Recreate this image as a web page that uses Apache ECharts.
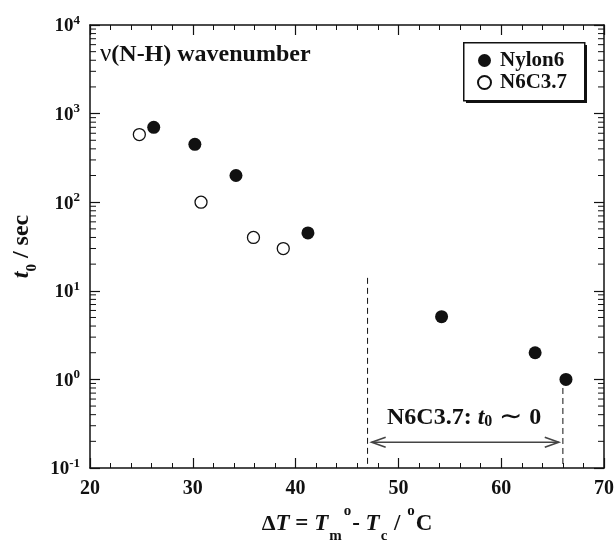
<!DOCTYPE html>
<html>
<head>
<meta charset="utf-8">
<script src="https://cdn.jsdelivr.net/npm/echarts@6/dist/echarts.min.js"></script>
<style>html,body{margin:0;padding:0;background:#fff}#c{width:615px;height:540px}</style>
</head>
<body>
<div id="c"></div>
<script>
// ---- data ----
var nylon6 = [[26.2, 700], [30.2, 450], [34.2, 200], [41.2, 45], [54.2, 5.1], [63.3, 2.0], [66.3, 1.0]];
var n6c37 = [[24.8, 580], [30.8, 100], [35.9, 40], [38.8, 30]];
var dashedLines = [[47, 14, 47, 0.1], [66.0, 0.8, 66.0, 0.1]];
var arrowSeg = [[47.4, 0.195, 65.6, 0.195]];
var annotation = [[56.4, 0.37]];
var xTicks = [20, 30, 40, 50, 60, 70];
var yDecades = [-1, 0, 1, 2, 3, 4];
var minorMultipliers = [2, 3, 4, 5, 6, 7, 8, 9];

var FONT = '"Liberation Serif", "Times New Roman", serif';
var minorTickVals = [];
for (var i = 0; i < yDecades.length - 1; i++) {
  for (var j = 0; j < minorMultipliers.length; j++) {
    minorTickVals.push([minorMultipliers[j] * Math.pow(10, yDecades[i])]);
  }
}

var chart = echarts.init(document.getElementById('c'), null, {renderer: 'canvas'});

var axisFontBase = {fontFamily: FONT, fontWeight: 'bold', color: '#111'};

var option = {
  animation: false,
  backgroundColor: '#fff',
  grid: {left: 90, right: 11, top: 25, bottom: 72, containLabel: false, outerBoundsMode: 'none'},
  graphic: [{
    type: 'text', left: 100, top: 42, z: 10,
    style: {
      text: '{n|ν}(N-H) wavenumber',
      font: 'bold 24px ' + FONT, fill: '#111',
      rich: {n: {fontFamily: FONT, fontSize: 25, fontWeight: 'normal', fill: '#111'}}
    }
  }, {
    type: 'rect', left: 466, top: 45, z: 10, silent: true,
    shape: {width: 121, height: 58}, style: {fill: '#111'}
  }, {
    type: 'rect', left: 463, top: 42, z: 11, silent: true,
    shape: {width: 121, height: 58}, style: {fill: '#fff', stroke: '#111', lineWidth: 1.5}
  }],
  legend: {
    orient: 'vertical', left: 477, top: 50, z: 12,
    padding: 0, itemGap: 1,
    itemWidth: 13, itemHeight: 13,
    textStyle: {fontFamily: FONT, fontWeight: 'bold', fontSize: 21, color: '#111', padding: [0, 0, 0, 4]},
    data: [{name: 'Nylon6', icon: 'circle'}, {name: 'N6C3.7', icon: 'circle'}]
  },
  xAxis: [{
    type: 'value', min: 20, max: 70, interval: 10,
    name: '{d|Δ}{i|T}{r| = }{i|T}{sub|m}{sup|o}{r|- }{i|T}{sub|c}{r| / }{sup|o}{r|C}',
    nameLocation: 'middle', nameGap: 36,
    nameTextStyle: {
      rich: {
        d: {fontFamily: FONT, fontWeight: 'bold', fontSize: 22, color: '#111', lineHeight: 40},
        i: {fontFamily: FONT, fontWeight: 'bold', fontStyle: 'italic', fontSize: 23, color: '#111', lineHeight: 40},
        r: {fontFamily: FONT, fontWeight: 'bold', fontSize: 23, color: '#111', lineHeight: 40},
        sub: {fontFamily: FONT, fontWeight: 'bold', fontSize: 15, color: '#111', lineHeight: 14, verticalAlign: 'bottom', padding: [0, 1, 0, 1]},
        sup: {fontFamily: FONT, fontWeight: 'bold', fontSize: 15, color: '#111', lineHeight: 25, verticalAlign: 'top', padding: [0, 1, 0, 1]}
      }
    },
    axisLine: {onZero: false, lineStyle: {color: '#111', width: 1.5}},
    axisTick: {inside: true, length: 10, lineStyle: {color: '#111', width: 1.2}},
    minorTick: {show: true, splitNumber: 5, length: 5, lineStyle: {color: '#111', width: 1}},
    axisLabel: Object.assign({fontSize: 20, margin: 11, formatter: function (v) { return xTicks.indexOf(v) >= 0 ? String(v) : ''; }}, axisFontBase),
    splitLine: {show: false}
  }, {
    type: 'value', min: 20, max: 70, interval: 10, position: 'top',
    axisLine: {onZero: false, lineStyle: {color: '#111', width: 1.5}},
    axisTick: {inside: true, length: 10, lineStyle: {color: '#111', width: 1.2}},
    minorTick: {show: true, splitNumber: 5, length: 5, lineStyle: {color: '#111', width: 1}},
    axisLabel: {show: false}, splitLine: {show: false}
  }],
  yAxis: [{
    type: 'log', logBase: 10, min: 0.1, max: 10000,
    name: '{i|t}{sub|0}{r| / sec}',
    nameLocation: 'middle', nameGap: 48, nameRotate: 90,
    nameTextStyle: {
      rich: {
        i: {fontFamily: FONT, fontWeight: 'bold', fontStyle: 'italic', fontSize: 24, color: '#111', lineHeight: 34},
        r: {fontFamily: FONT, fontWeight: 'bold', fontSize: 24, color: '#111', lineHeight: 34},
        sub: {fontFamily: FONT, fontWeight: 'bold', fontSize: 15, color: '#111', lineHeight: 14, verticalAlign: 'bottom'}
      }
    },
    axisLine: {onZero: false, lineStyle: {color: '#111', width: 1.5}},
    axisTick: {inside: true, length: 10, lineStyle: {color: '#111', width: 1.2}},
    minorTick: {show: false},
    axisLabel: {
      margin: 10,
      formatter: function (v) {
        var e = Math.round(Math.log(v) / Math.LN10);
        return '{b|10}{s|' + e + '}';
      },
      rich: {
        b: {fontFamily: FONT, fontWeight: 'bold', fontSize: 19, color: '#111', lineHeight: 22, verticalAlign: 'bottom'},
        s: {fontFamily: FONT, fontWeight: 'bold', fontSize: 13, color: '#111', lineHeight: 12, verticalAlign: 'top'}
      }
    },
    splitLine: {show: false}
  }, {
    type: 'log', logBase: 10, min: 0.1, max: 10000, position: 'right',
    axisLine: {onZero: false, lineStyle: {color: '#111', width: 1.5}},
    axisTick: {inside: true, length: 10, lineStyle: {color: '#111', width: 1.2}},
    axisLabel: {show: false}, splitLine: {show: false}
  }],
  series: [{
    name: 'Nylon6', type: 'scatter', data: nylon6, symbol: 'circle', symbolSize: 13,
    itemStyle: {color: '#111', borderColor: '#111', borderWidth: 0, opacity: 1}, z: 5
  }, {
    name: 'N6C3.7', type: 'scatter', data: n6c37, symbol: 'circle', symbolSize: 12,
    itemStyle: {color: '#fff', borderColor: '#111', borderWidth: 1.3, opacity: 1}, z: 5
  }, {
    name: 'minorTicks', type: 'custom', data: minorTickVals, silent: true, clip: false,
    encode: {y: 0},
    renderItem: function (params, api) {
      var v = api.value(0);
      var pl = api.coord([20, v]);
      var pr = api.coord([70, v]);
      return {type: 'group', children: [
        {type: 'line', shape: {x1: pl[0], y1: pl[1], x2: pl[0] + 6, y2: pl[1]}, style: {stroke: '#111', lineWidth: 1}},
        {type: 'line', shape: {x1: pr[0], y1: pr[1], x2: pr[0] - 6, y2: pr[1]}, style: {stroke: '#111', lineWidth: 1}}
      ]};
    }
  }, {
    name: 'dashed', type: 'custom', data: dashedLines, silent: true, clip: false,
    renderItem: function (params, api) {
      var a = api.coord([api.value(0), api.value(1)]);
      var b = api.coord([api.value(2), api.value(3)]);
      return {type: 'line', shape: {x1: a[0], y1: a[1], x2: b[0], y2: b[1]},
        style: {stroke: '#111', lineWidth: 1, lineDash: [6, 4]}};
    }
  }, {
    name: 'arrow', type: 'custom', data: arrowSeg, silent: true, clip: false,
    renderItem: function (params, api) {
      var a = api.coord([api.value(0), api.value(1)]);
      var b = api.coord([api.value(2), api.value(3)]);
      var st = {stroke: '#444', lineWidth: 1.6, fill: 'none'};
      return {type: 'group', children: [
        {type: 'line', shape: {x1: a[0], y1: a[1], x2: b[0], y2: b[1]}, style: st},
        {type: 'polyline', shape: {points: [[a[0] + 14, a[1] - 5], [a[0], a[1]], [a[0] + 14, a[1] + 5]]}, style: st},
        {type: 'polyline', shape: {points: [[b[0] - 14, b[1] - 5], [b[0], b[1]], [b[0] - 14, b[1] + 5]]}, style: st}
      ]};
    }
  }, {
    name: 'annot', type: 'scatter', data: annotation, symbolSize: 0, silent: true,
    itemStyle: {opacity: 1},
    label: {
      show: true, position: 'inside', color: '#111', opacity: 1,
      formatter: '{r|N6C3.7: }{i|t}{sub|0}{t| ∼ }{r|0}',
      rich: {
        r: {fontFamily: FONT, fontWeight: 'bold', fontSize: 24, color: '#111', lineHeight: 24},
        t: {fontFamily: FONT, fontWeight: 'normal', fontSize: 28, color: '#111', lineHeight: 24},
        i: {fontFamily: FONT, fontWeight: 'bold', fontStyle: 'italic', fontSize: 24, color: '#111', lineHeight: 24},
        sub: {fontFamily: FONT, fontWeight: 'bold', fontSize: 16, color: '#111', lineHeight: 12, verticalAlign: 'bottom'}
      }
    }
  }]
};
chart.setOption(option);
</script>
</body>
</html>
